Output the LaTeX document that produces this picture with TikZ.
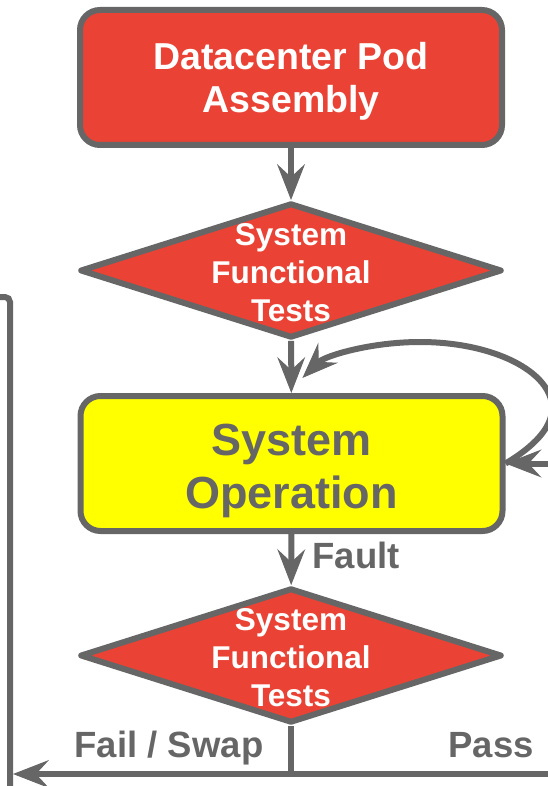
\documentclass[tikz,border=0pt]{standalone}
\usepackage{fontspec}
\setmainfont{Liberation Sans}
\usetikzlibrary{arrows.meta,shapes.geometric}
\definecolor{edge}{HTML}{666666}
\definecolor{boxred}{HTML}{EA4335}
\definecolor{opyellow}{HTML}{FFFF00}
\begin{document}
\begin{tikzpicture}[x=1pt,y=-1pt,line width=6pt,
  block/.style={draw=edge,rounded corners=20pt,minimum width=422pt,minimum height=135pt,inner sep=0pt},
  decision/.style={draw=edge,fill=boxred,diamond,line join=round,minimum width=422pt,minimum height=135pt,inner sep=0pt},
  redtxt/.style={text=white,anchor=base,inner sep=0pt,font=\bfseries\fontsize{37.5}{37.5}\selectfont},
  testtxt/.style={text=white,anchor=base,inner sep=0pt,font=\bfseries\fontsize{31.5}{31.5}\selectfont},
  optxt/.style={text=edge,anchor=base,inner sep=0pt,font=\bfseries\fontsize{45}{45}\selectfont},
  edgetxt/.style={text=edge,anchor=base,inner sep=0pt,font=\bfseries\fontsize{36.5}{36.5}\selectfont},
  wire/.style={draw=edge,line width=6pt},
  flow/.style={wire,-{Stealth[length=36pt,width=28pt,inset=13pt,line width=1pt]}},
]
\useasboundingbox (0,0) rectangle (547,786);

% main chain of blocks
\node[block,fill=boxred] (asm) at (291,77.5) {};
\node[decision] (t1) at (291,270.5) {};
\node[block,fill=opyellow] (op) at (291.5,463.5) {};
\node[decision] (t2) at (291,655.5) {};

% block texts
\node[redtxt] (asmA) at (291,70) {Datacenter Pod};
\node[redtxt] (asmB) at (291,113) {Assembly};
\node[testtxt] (t1a) at (291,245) {System};
\node[testtxt] (t1b) at (291,283) {Functional};
\node[testtxt] (t1c) at (291,321) {Tests};
\node[optxt] (opA) at (291.5,455) {System};
\node[optxt] (opB) at (291.5,508) {Operation};
\node[testtxt] (t2a) at (291,630) {System};
\node[testtxt] (t2b) at (291,668) {Functional};
\node[testtxt] (t2c) at (291,706) {Tests};

% straight flow
\draw[flow] (asm) -- (t1);
\draw[flow] (t1) -- (op);
\draw[flow] (op) -- (t2);
\node[edgetxt,anchor=base west] (fault) at (309.5,568) {Fault};

% self loop of the operation block
\draw[flow] (op.east) .. controls (534.7,446) and (552,427.5) .. (552,408)
  .. controls (552,371.5) and (492.9,342) .. (420,342)
  .. controls (370.4,342) and (324.9,355.9) .. (302.4,378);

% pass branch returning into the operation block
\coordinate (passIn) at (560,463.5);
\draw[flow] (passIn) -- (op.east);

% bottom return line and swap branch
\coordinate (retR) at (560,774);
\coordinate (retL) at (13,774);
\draw[wire] (t2.south) -- (t2.south |- retR);
\draw[flow] (retR) -- (retL);
\coordinate (upTop) at (-5,297);
\coordinate (upCorner) at (10,297);
\coordinate (upBot) at (10,792);
\draw[wire,rounded corners=5pt] (upTop) -- (upCorner) -- (upBot);

\node[edgetxt] (fail) at (169,757) {Fail / Swap};
\node[edgetxt] (pass) at (491,757) {Pass};
\end{tikzpicture}
\end{document}
